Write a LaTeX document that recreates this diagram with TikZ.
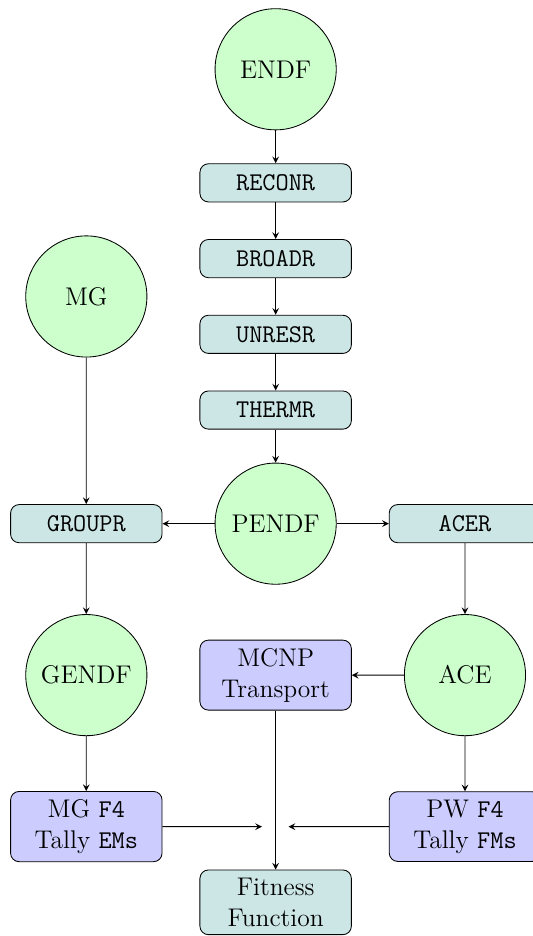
\documentclass[12pt,tikz,border=0pt]{standalone}
\usepackage{tikz}
\usetikzlibrary{arrows}
\definecolor{datagreen}{RGB}{204, 255, 204}
\definecolor{modteal}{RGB}{204, 230, 230}
\definecolor{runblue}{RGB}{204, 204, 255}

\begin{document}
\begin{tikzpicture}[scale=1.25, >=stealth,
    datafile/.style={circle, draw, fill=datagreen, minimum size=2cm},
    module/.style={rectangle, rounded corners, draw, fill=modteal,
      minimum width=2.5cm, minimum height=0.63cm, font=\ttfamily},
    runbox/.style={rectangle, rounded corners, draw, fill=runblue,
      minimum width=2.5cm, inner ysep=3.8pt, align=center},
    endbox/.style={rectangle, rounded corners, draw, fill=modteal,
      minimum width=2.5cm, inner ysep=3.8pt, align=center}]

  \useasboundingbox (-3.64, -5.445) rectangle (3.39, 6.915);

  % NJOY chain
  \node[datafile] (endf) at (0, 6) {ENDF};
  \node[module] (reconr) at (0, 4.5) {RECONR};
  \node[module] (broadr) at (0, 3.5) {BROADR};
  \node[module] (unresr) at (0, 2.5) {UNRESR};
  \node[module] (thermr) at (0, 1.5) {THERMR};
  \node[datafile] (pendf) at (0, 0) {PENDF};

  \draw[->] (endf) -- (reconr);
  \draw[->] (reconr) -- (broadr);
  \draw[->] (broadr) -- (unresr);
  \draw[->] (unresr) -- (thermr);
  \draw[->] (thermr) -- (pendf);

  % multigroup side
  \node[datafile] (mg) at (-2.5, 3) {MG};
  \node[module] (groupr) at (-2.5, 0) {GROUPR};
  \node[datafile] (gendf) at (-2.5, -2) {GENDF};
  \node[runbox] (mgtally) at (-2.5, -4) {MG \texttt{F4}\\Tally \texttt{EMs}};

  \draw[->] (mg) -- (groupr);
  \draw[->] (pendf) -- (groupr);
  \draw[->] (groupr) -- (gendf);
  \draw[->] (gendf) -- (mgtally);

  % pointwise side
  \node[module] (acer) at (2.5, 0) {ACER};
  \node[datafile] (ace) at (2.5, -2) {ACE};
  \node[runbox] (mcnp) at (0, -2) {MCNP\\Transport};
  \node[runbox] (pwtally) at (2.5, -4) {PW \texttt{F4}\\Tally \texttt{FMs}};

  \draw[->] (pendf) -- (acer);
  \draw[->] (acer) -- (ace);
  \draw[->] (ace) -- (mcnp);
  \draw[->] (ace) -- (pwtally);

  % fitness
  \node[endbox] (fitness) at (0, -5) {Fitness\\Function};
  \coordinate (mgend) at (-0.18, -4);
  \coordinate (pwend) at (0.17, -4);

  \draw[->] (mcnp) -- (fitness);
  \draw[->] (mgtally) -- (mgend);
  \draw[->] (pwtally) -- (pwend);

\end{tikzpicture}
\end{document}
